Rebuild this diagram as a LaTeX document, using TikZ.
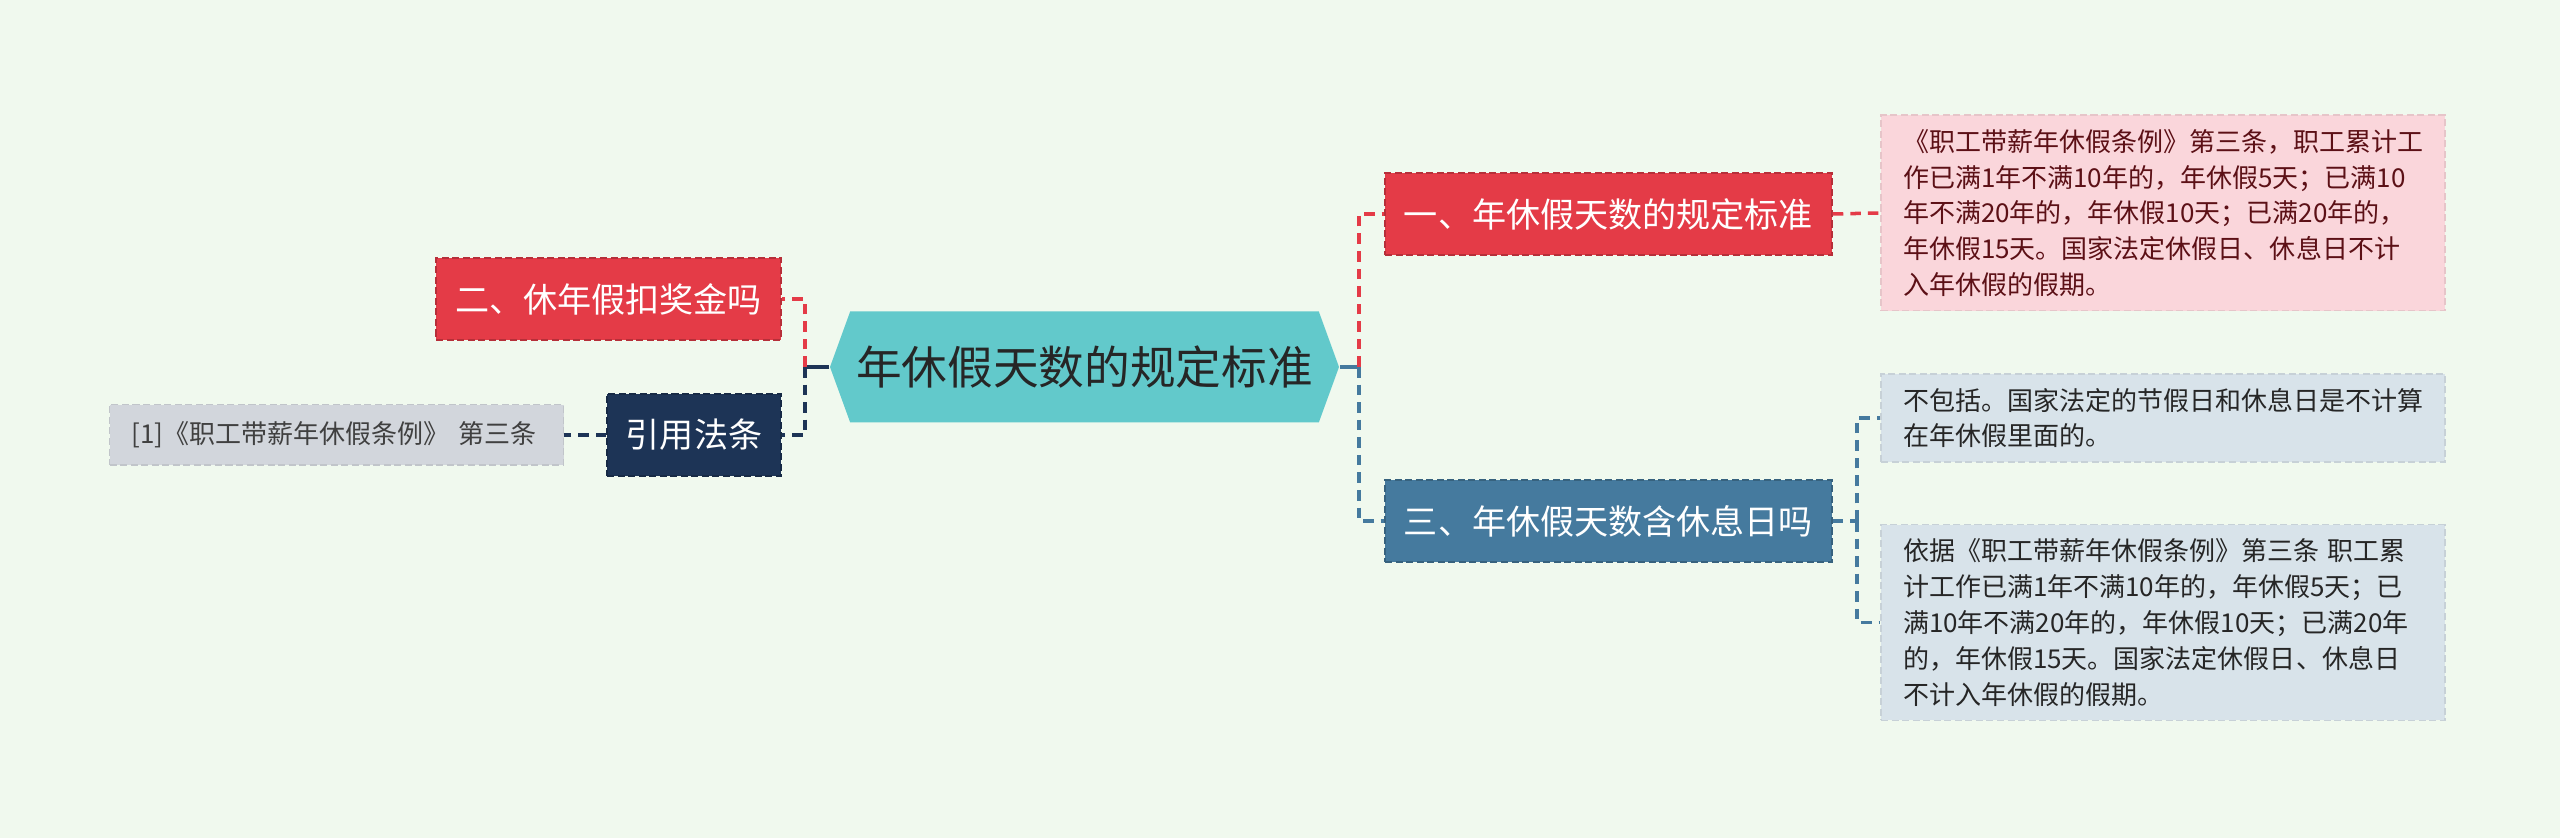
\documentclass[tikz,border=0pt]{standalone}
\usepackage{fontspec}
\setmainfont{Noto Sans CJK SC}
\usetikzlibrary{shapes.symbols}
\definecolor{cbg}{HTML}{F0F9EE}
\definecolor{croot}{HTML}{62C9CB}
\definecolor{cred}{HTML}{E43B47}
\definecolor{cblue}{HTML}{457A9E}
\definecolor{cnavy}{HTML}{1D3456}
\definecolor{cpink}{HTML}{FAD6DB}
\definecolor{cpinktxt}{HTML}{5C1016}
\definecolor{cpale}{HTML}{D8E3EA}
\definecolor{cgrey}{HTML}{D2D6DC}

\begin{document}
\begin{tikzpicture}[
  topic/.style={draw=#1!80!black,fill=#1,dash pattern=on 2pt off 1pt,text=white,
    font=\fontsize{9.7}{12}\selectfont,minimum height=0.82cm,inner sep=0pt},
  leaf/.style={draw=#1!92!black,fill=#1,dash pattern=on 2pt off 1pt,
    font=\fontsize{7.4}{10.2}\selectfont,align=left,text width=5.2cm,
    inner xsep=0.22cm,inner ysep=0.14cm},
  link/.style={draw=#1,line width=1pt,dash pattern=on 3pt off 2pt},
  stem/.style={draw=#1,line width=1pt}]
  \useasboundingbox[fill=cbg] (0,0) rectangle (25.6,8.38);
  \node[signal,signal to=west and east,signal pointer angle=140,fill=croot,
    minimum width=5.09cm,minimum height=1.11cm,inner sep=0pt,text=black!85,
    font=\fontsize{13}{15}\selectfont] (root) at (10.845,4.71) {年休假天数的规定标准};
  \node[topic=cred,minimum width=4.47cm] (one) at (16.085,6.24) {一、年休假天数的规定标准};
  \node[topic=cblue,minimum width=4.47cm] (three) at (16.085,3.17) {三、年休假天数含休息日吗};
  \node[topic=cred,minimum width=3.45cm] (two) at (6.085,5.39) {二、休年假扣奖金吗};
  \node[topic=cnavy,minimum width=1.74cm] (cite) at (6.94,4.03) {引用法条};
  \node[leaf=cgrey,text width=4.1cm,inner ysep=0.17cm,text=black!75] (law) at (3.365,4.03)
    {[1]《职工带薪年休假条例》 第三条};
  \node[leaf=cpink,text=cpinktxt] (stdtxt) at (21.63,6.25)
    {《职工带薪年休假条例》第三条，职工累计工\\作已满1年不满10年的，年休假5天；已满10\\年不满20年的，年休假10天；已满20年的，\\年休假15天。国家法定休假日、休息日不计\\入年休假的假期。};
  \node[leaf=cpale,text=black!85] (notinc) at (21.63,4.20)
    {不包括。国家法定的节假日和休息日是不计算\\在年休假里面的。};
  \node[leaf=cpale,text=black!85] (basis) at (21.63,2.155)
    {依据《职工带薪年休假条例》第三条 职工累\\计工作已满1年不满10年的，年休假5天；已\\满10年不满20年的，年休假10天；已满20年\\的，年休假15天。国家法定休假日、休息日\\不计入年休假的假期。};
  \coordinate (jr) at (13.59,4.71);
  \coordinate (jl) at (8.05,4.71);
  \coordinate (jb) at (18.57,3.17);
  \draw[stem=cblue] (root.east) -- (jr);
  \draw[stem=cnavy] (root.west) -- (jl);
  \draw[link=cred] (jr) |- (one.west);
  \draw[link=cblue] (jr) |- (three.west);
  \draw[link=cred] (jl) |- (two.east);
  \draw[link=cnavy] (jl) |- (cite.east);
  \draw[link=cnavy] (cite.west) -- (law.east);
  \draw[link=cred] (one.east) -- (stdtxt.west);
  \draw[link=cblue] (three.east) -- (jb);
  \draw[link=cblue] (jb) |- (notinc.west);
  \draw[link=cblue] (jb) |- (basis.west);
\end{tikzpicture}
\end{document}
